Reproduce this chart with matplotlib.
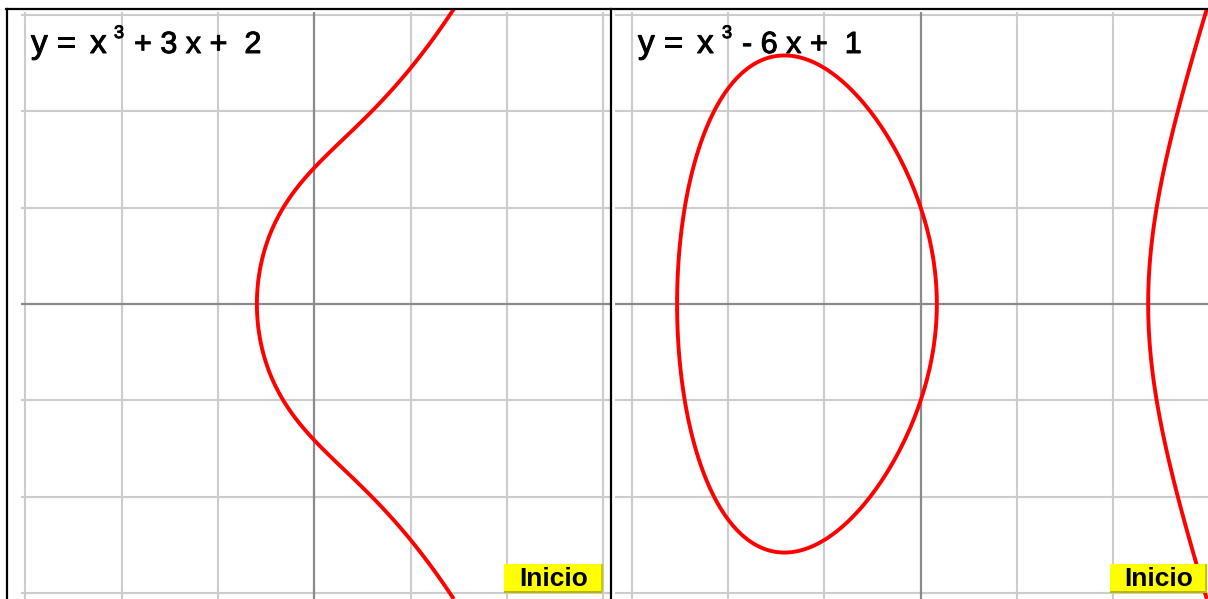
import numpy as np
import matplotlib
matplotlib.use("Agg")
import matplotlib.pyplot as plt
from matplotlib.patches import Rectangle
import matplotlib.patheffects as pe

# ---- data ----
coef_left = [1, 0, 3, 2]      # y^2 = x^3 + 3x + 2
coef_right = [1, 0, -6, 1]    # y^2 = x^3 - 6x + 1
title_main_left = ["y", "=", "x"]
title_sup_left = "3"
title_rest_left = "+ 3 x +  2"
title_main_right = ["y", "=", "x"]
title_sup_right = "3"
title_rest_right = "- 6 x +  1"
grid_ticks = [-3, -2, -1, 1, 2, 3]
button_label = "Inicio"

W, H = 1208, 599
U = 96.33          # pixels per unit
OY = 304.0         # pixel row of y = 0
TOP = 9.0

fig = plt.figure(figsize=(W / 100, H / 100), dpi=100)
fig.patch.set_facecolor("white")

GRID_C = "#cccccc"
AXIS_C = "#8a8a8a"
FX = [pe.withStroke(linewidth=0.7, foreground="black")]


def panel(l, r, ox, coef, grid_left_px, main, sup, rest, tx, rest_x, sup_x, btn):
    ax = fig.add_axes([l / W, 0, (r - l) / W, (H - TOP) / H])
    ax.set_facecolor("none")
    x0, x1 = (l - ox) / U, (r - ox) / U
    y0, y1 = (OY - H) / U, (OY - TOP) / U
    ax.set_xlim(x0, x1)
    ax.set_ylim(y0, y1)
    ax.set_xticks([])
    ax.set_yticks([])
    gy_top = (OY - 12) / U
    gx_left = (grid_left_px - ox) / U
    for g in grid_ticks:
        ax.plot([g, g], [y0 - 1, gy_top], color=GRID_C, lw=1.5, zorder=1,
                solid_capstyle="butt")
        ax.plot([gx_left, x1 + 1], [g, g], color=GRID_C, lw=1.5, zorder=1,
                solid_capstyle="butt")
    ax.plot([0, 0], [y0 - 1, gy_top], color=AXIS_C, lw=1.6, zorder=2,
            solid_capstyle="butt")
    ax.plot([gx_left, x1 + 1], [0, 0], color=AXIS_C, lw=1.6, zorder=2,
            solid_capstyle="butt")
    xs = np.linspace(x0, x1, 1400)
    ys = np.linspace(y0, y1, 1400)
    X, Y = np.meshgrid(xs, ys)
    Z = Y ** 2 - np.polyval(coef, X)
    ax.contour(X, Y, Z, levels=[0], colors="red", linewidths=2.8, zorder=3)
    for s in ax.spines.values():
        s.set_visible(False)

    # title
    for tok, off in zip(main, [0, 25, 59]):
        fig.text((tx + off) / W, 1 - 53 / H, tok, fontsize=24,
                 family="Liberation Sans", va="baseline", ha="left",
                 color="black", path_effects=FX)
    fig.text(sup_x / W, 1 - 38 / H, sup, fontsize=13, family="Liberation Sans",
             va="baseline", ha="left", color="black", path_effects=FX)
    fig.text(rest_x / W, 1 - 53 / H, rest, fontsize=22, family="Liberation Sans",
             va="baseline", ha="left", color="black", path_effects=FX)

    # button
    bl, br, bt, bb = btn
    fig.patches.append(Rectangle((bl / W, 1 - bb / H), (br - bl) / W, (bb - bt) / H,
                                 transform=fig.transFigure, fc="#ffff00",
                                 ec="none", zorder=5))
    fig.patches.append(Rectangle((bl / W, 1 - bb / H), (br - bl) / W, 2 / H,
                                 transform=fig.transFigure, fc="#b8b800",
                                 ec="none", zorder=6))
    fig.patches.append(Rectangle(((br - 2) / W, 1 - bb / H), 2 / W, (bb - bt) / H,
                                 transform=fig.transFigure, fc="#c8c800",
                                 ec="none", zorder=6))
    fig.text((bl + br) / 2 / W, 1 - 585.5 / H, button_label, fontsize=19,
             family="Liberation Sans", fontweight="bold", va="baseline",
             ha="center", color="black", zorder=7)
    return ax


axL = panel(7, 611, 314.3, coef_left, 21, title_main_left, title_sup_left,
            title_rest_left, 31, 134, 114, (504, 603, 564, 593))
axR = panel(611, 1208, 920.7, coef_right, 615, title_main_right, title_sup_right,
            title_rest_right, 638, 742, 722, (1110, 1207, 564, 593))

# black frame lines
fig.lines.append(plt.Line2D([6 / W, 1], [1 - TOP / H, 1 - TOP / H],
                            transform=fig.transFigure, color="black", lw=1.6))
fig.lines.append(plt.Line2D([7 / W, 7 / W], [0, 1 - TOP / H],
                            transform=fig.transFigure, color="black", lw=1.6))
fig.lines.append(plt.Line2D([611 / W, 611 / W], [0, 1 - TOP / H],
                            transform=fig.transFigure, color="black", lw=1.6))

fig.savefig("out.png", dpi=100)
